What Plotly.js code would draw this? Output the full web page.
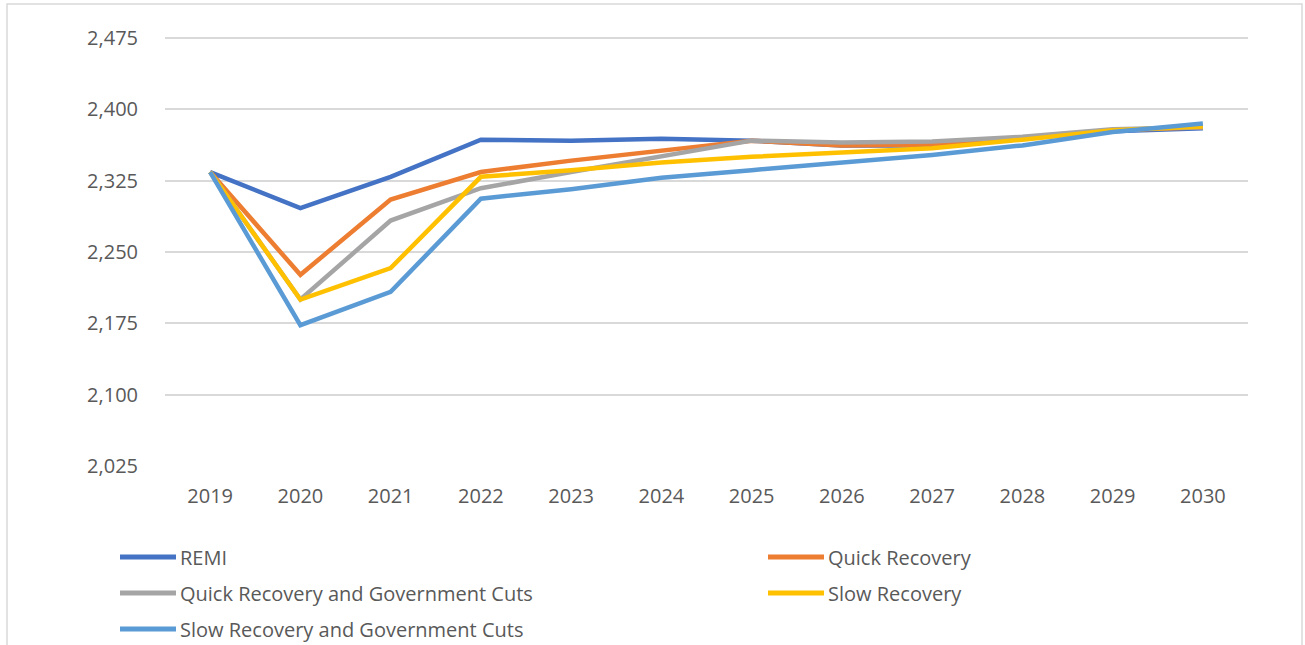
<!DOCTYPE html>
<html>
<head>
<meta charset="utf-8">
<script src="https://cdn.plot.ly/plotly-3.0.1.min.js"></script>
<style>
  html, body { margin: 0; padding: 0; background: #ffffff; }
  #chart { width: 1305px; height: 645px; }
</style>
</head>
<body>
<div id="chart"></div>
<script>
const years = ["2019","2020","2021","2022","2023","2024","2025","2026","2027","2028","2029","2030"];
const remi = [2334, 2296, 2329, 2368, 2367, 2369, 2367, 2362, 2362, 2369, 2377, 2380];
const quickRecovery = [2334, 2226, 2305, 2334, 2346, 2356, 2367, 2362, 2363, 2370, 2378, 2381];
const quickRecoveryCuts = [2334, 2200, 2283, 2317, 2334, 2350, 2367, 2365, 2366, 2371, 2379, 2381];
const slowRecovery = [2334, 2200, 2233, 2329, 2336, 2344, 2350, 2354, 2359, 2368, 2378, 2382];
const slowRecoveryCuts = [2334, 2173, 2208, 2306, 2316, 2328, 2336, 2344, 2352, 2362, 2376, 2385];
const seriesNames = ["REMI", "Quick Recovery", "Quick Recovery and Government Cuts", "Slow Recovery", "Slow Recovery and Government Cuts"];
const yTicks = [2025, 2100, 2175, 2250, 2325, 2400, 2475];

const colors = ["#4472C4", "#ED7D31", "#A5A5A5", "#FFC000", "#5B9BD5"];
const data = [remi, quickRecovery, quickRecoveryCuts, slowRecovery, slowRecoveryCuts];

const traces = data.map((ys, i) => ({
  type: "scatter",
  mode: "lines",
  x: years,
  y: ys,
  name: seriesNames[i],
  line: { color: colors[i], width: 4.5 },
  hoverinfo: "x+y+name"
}));

// plot area in pixels
const W = 1305, H = 645;
const L = 165, R = 1248, T = 36, B = 466;
const px2x = px => (px - L) / (R - L);
const py2y = py => (B - py) / (B - T);

// legend layout (two columns, three rows)
const legendCols = [120, 768];
const legendRows = [557, 593, 629];
const shapes = [{
  type: "rect", xref: "paper", yref: "paper",
  x0: px2x(7), x1: px2x(1302),
  y0: py2y(700), y1: py2y(4),
  line: { color: "#d9d9d9", width: 1.5 },
  fillcolor: "rgba(0,0,0,0)",
  layer: "below"
}];
const annotations = [];
seriesNames.forEach((name, i) => {
  const cx = legendCols[i % 2];
  const cy = legendRows[Math.floor(i / 2)];
  shapes.push({
    type: "line", xref: "paper", yref: "paper",
    x0: px2x(cx), x1: px2x(cx + 56),
    y0: py2y(cy), y1: py2y(cy),
    line: { color: colors[i], width: 5 }
  });
  annotations.push({
    xref: "paper", yref: "paper",
    x: px2x(cx + 58), y: py2y(cy),
    xanchor: "left", yanchor: "middle",
    text: name, showarrow: false,
    font: { family: "'Open Sans', sans-serif", size: 20, color: "#595959" }
  });
});

const layout = {
  width: W, height: H,
  margin: { l: L, r: W - R, t: T, b: H - B },
  paper_bgcolor: "#ffffff",
  plot_bgcolor: "#ffffff",
  font: { family: "'Open Sans', sans-serif", size: 20, color: "#595959" },
  showlegend: false,
  xaxis: {
    type: "category",
    range: [-0.5, 11.5],
    showgrid: false,
    zeroline: false,
    showline: false,
    ticks: "",
    ticklabelstandoff: 16,
    tickfont: { size: 20, color: "#595959" }
  },
  yaxis: {
    range: [2025, 2477],
    tickvals: yTicks,
    tickformat: ",",
    showgrid: true,
    gridcolor: "#d9d9d9",
    gridwidth: 1.5,
    zeroline: false,
    showline: false,
    ticks: "",
    ticklabelstandoff: 26,
    tickfont: { size: 20, color: "#595959" }
  },
  shapes: shapes,
  annotations: annotations
};

Plotly.newPlot("chart", traces, layout, { displayModeBar: false, responsive: false });
</script>
</body>
</html>
